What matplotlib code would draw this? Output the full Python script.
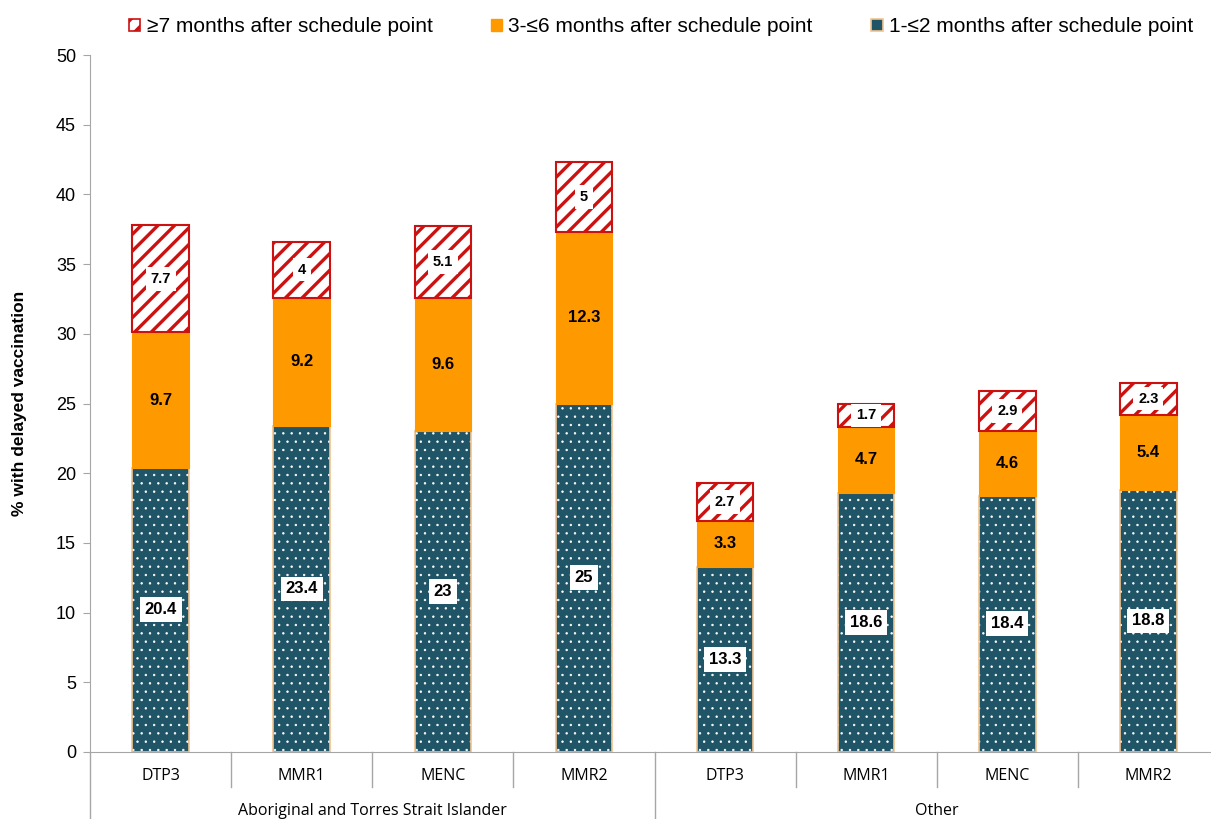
import matplotlib
matplotlib.use("Agg")
import matplotlib.pyplot as plt
from matplotlib.patches import Patch
import numpy as np

# data
groups = ["Aboriginal and Torres Strait Islander", "Other"]
vaccines = ["DTP3", "MMR1", "MENC", "MMR2", "DTP3", "MMR1", "MENC", "MMR2"]
delay_1_2 = [20.4, 23.4, 23, 25, 13.3, 18.6, 18.4, 18.8]
delay_3_6 = [9.7, 9.2, 9.6, 12.3, 3.3, 4.7, 4.6, 5.4]
delay_7 = [7.7, 4, 5.1, 5, 2.7, 1.7, 2.9, 2.3]
labels_1_2 = ["20.4", "23.4", "23", "25", "13.3", "18.6", "18.4", "18.8"]
labels_3_6 = ["9.7", "9.2", "9.6", "12.3", "3.3", "4.7", "4.6", "5.4"]
labels_7 = ["7.7", "4", "5.1", "5", "2.7", "1.7", "2.9", "2.3"]

teal = "#1f5566"
orange = "#ff9900"
red = "#cc1111"
tan = "#f2c391"
grey = "#a6a6a6"

plt.rcParams['font.family'] = ['Liberation Sans', 'DejaVu Sans']
plt.rcParams['hatch.linewidth'] = 2.4

fig = plt.figure(figsize=(12.11, 8.19), dpi=100)
ax = fig.add_axes([90 / 1211, 67 / 819, 1129 / 1211, 697 / 819])

x = np.arange(len(vaccines))
w = 0.40
b1 = np.array(delay_1_2)
b2 = b1 + np.array(delay_3_6)

# bottom segment: teal with small white dots, then a tan outline
dots = ax.bar(x, delay_1_2, w, color=teal, edgecolor="white", hatch="..", linewidth=0)
for p in dots:
    try:
        p.set_hatch_linewidth(0.5)
    except AttributeError:
        pass
ax.bar(x, delay_1_2, w, fill=False, edgecolor=tan, linewidth=1.2)
ax.bar(x, delay_3_6, w, bottom=b1, color=orange, edgecolor=orange, linewidth=0.8)
stripes = ax.bar(x, delay_7, w, bottom=b2, color="white", edgecolor=red, hatch="//", linewidth=1.5)
for p in stripes:
    try:
        p.set_hatch_linewidth(2.4)
    except AttributeError:
        pass

for i in range(len(x)):
    ax.text(x[i], delay_1_2[i] / 2, labels_1_2[i], ha="center", va="center",
            fontsize=12, fontweight="bold",
            bbox=dict(facecolor="white", edgecolor="none", pad=3.5))
    ax.text(x[i], b1[i] + delay_3_6[i] / 2, labels_3_6[i], ha="center", va="center",
            fontsize=12, fontweight="bold")
    ax.text(x[i], b2[i] + delay_7[i] / 2, labels_7[i], ha="center", va="center",
            fontsize=10.5, fontweight="bold",
            bbox=dict(facecolor="white", edgecolor="none", pad=3.5))

ax.set_xlim(-0.5, len(x) - 0.5)
ax.set_ylim(0, 50)
ax.set_yticks(np.arange(0, 51, 5))
ax.tick_params(axis="y", labelsize=13, length=5, color=grey, pad=5)
ax.set_xticks([])
ax.spines["top"].set_visible(False)
ax.spines["right"].set_visible(False)
ax.spines["left"].set_color(grey)
ax.spines["bottom"].set_color(grey)
ax.set_ylabel("% with delayed vaccination", fontsize=12.5, fontweight="bold", labelpad=21)

# multi-level category axis
tr = ax.get_xaxis_transform()
cat_font = ["Open Sans", "DejaVu Sans"]
for i, v in enumerate(vaccines):
    ax.text(i, -0.034, v, transform=tr, ha="center", va="center", fontsize=11.5, family=cat_font)
for k in range(1, len(x)):
    if k == 4:
        continue
    ax.plot([k - 0.5, k - 0.5], [0, -0.05], transform=tr, color=grey, lw=1, clip_on=False)
for k in [-0.5, 3.5, 7.5]:
    ax.plot([k, k], [0, -0.1], transform=tr, color=grey, lw=1, clip_on=False)
ax.text(1.5, -0.085, groups[0], transform=tr, ha="center", va="center", fontsize=11.5, family=cat_font)
ax.text(5.5, -0.085, groups[1], transform=tr, ha="center", va="center", fontsize=11.5, family=cat_font)

handles = [
    Patch(facecolor="white", edgecolor=red, hatch="//", linewidth=1.2),
    Patch(facecolor=orange, edgecolor=orange),
    Patch(facecolor=teal, edgecolor=tan, linewidth=1.2),
]
names = ["≥7 months after schedule point", "3-≤6 months after schedule point",
         "1-≤2 months after schedule point"]
fig.legend(handles, names, loc="center", bbox_to_anchor=(661 / 1211, 1 - 27 / 819), ncol=3,
           frameon=False, fontsize=15, handlelength=0.55, handleheight=0.55,
           handletextpad=0.3, columnspacing=2.8)

fig.savefig("out.png", dpi=100)
